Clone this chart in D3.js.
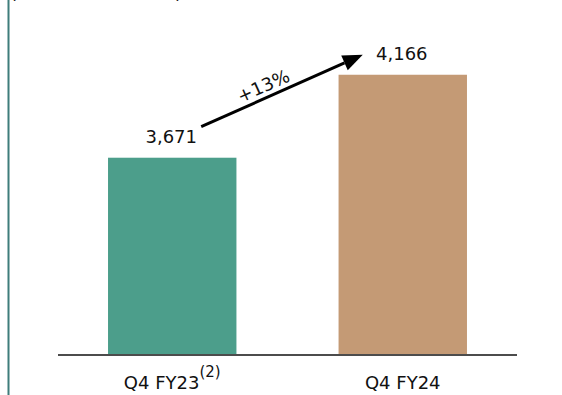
<!DOCTYPE html>
<html>
<head>
<script src="https://cdn.jsdelivr.net/npm/d3@7"></script>
<style>
  body { margin: 0; background: #fff; }
  text { font-family: "DejaVu Sans", sans-serif; fill: #111; }
</style>
</head>
<body>
<svg width="562" height="395"></svg>
<script>
// chart data
var categories = ["Q4 FY23", "Q4 FY24"];
var footnotes = ["(2)", ""];
var values = [3671, 4166];
var changeLabel = "+13%";
var unitsNote = "(Customers in thousands)";

var colors = ["#4c9e8b", "#c49a75"];

var svg = d3.select("svg");

var x = d3.scaleBand().domain(categories).range([58, 517])
  .paddingInner(0.443).paddingOuter(0.217);
var y = d3.scaleLinear().domain([2500, 4600]).range([354, 2]);

// left rule and cropped units note
svg.append("line")
  .attr("x1", 8.5).attr("x2", 8.5).attr("y1", 0).attr("y2", 395)
  .attr("stroke", "#3f7d7b").attr("stroke-width", 2);
svg.append("text")
  .attr("x", 10).attr("y", -1.5)
  .attr("font-size", 18)
  .attr("textLength", 172)
  .text(unitsNote);

// bars
svg.append("g").selectAll("rect")
  .data(values)
  .enter()
  .append("rect")
  .attr("x", function(d, i) { return x(categories[i]); })
  .attr("y", function(d) { return y(d); })
  .attr("width", x.bandwidth())
  .attr("height", function(d) { return y.range()[0] - y(d); })
  .attr("fill", function(d, i) { return colors[i]; });

// baseline
svg.append("line")
  .attr("x1", x.range()[0]).attr("x2", x.range()[1])
  .attr("y1", 355).attr("y2", 355)
  .attr("stroke", "#111").attr("stroke-width", 1.5);

// value labels
svg.append("g").selectAll("text")
  .data(values)
  .enter()
  .append("text")
  .attr("x", function(d, i) { return x(categories[i]) + x.bandwidth() / 2 - 1; })
  .attr("y", function(d) { return y(d) - 15; })
  .attr("text-anchor", "middle")
  .attr("font-size", 18)
  .text(function(d) { return d3.format(",")(d); });

// category labels
var cat = svg.append("g").selectAll("text")
  .data(categories)
  .enter()
  .append("text")
  .attr("x", function(d) { return x(d) + x.bandwidth() / 2; })
  .attr("y", 389)
  .attr("text-anchor", "middle")
  .attr("font-size", 18);
cat.append("tspan").text(function(d) { return d; });
cat.append("tspan")
  .attr("font-size", 15)
  .attr("dy", -12)
  .text(function(d, i) { return footnotes[i]; });

// growth arrow
var x0 = x(categories[0]) + x.bandwidth() / 2 + 29, y0 = y(values[0]) - 31;
var x1 = x(categories[1]) + x.bandwidth() / 2 - 40, y1 = y(values[1]) - 20;
var ang = Math.atan2(y1 - y0, x1 - x0);
var headLen = 20, headW = 8;
var bx = x1 - headLen * Math.cos(ang), by = y1 - headLen * Math.sin(ang);
svg.append("line")
  .attr("x1", x0).attr("y1", y0).attr("x2", bx).attr("y2", by)
  .attr("stroke", "#000").attr("stroke-width", 3);
svg.append("path")
  .attr("d", "M" + x1 + "," + y1 +
    "L" + (bx + headW * Math.sin(ang)) + "," + (by - headW * Math.cos(ang)) +
    "L" + (bx - headW * Math.sin(ang)) + "," + (by + headW * Math.cos(ang)) + "Z")
  .attr("fill", "#000");
var mx = (x0 + x1) / 2 - 16, my = (y0 + y1) / 2 + 1;
svg.append("text")
  .attr("transform", "translate(" + mx + "," + my + ")rotate(" + (ang * 180 / Math.PI) + ")")
  .attr("text-anchor", "middle")
  .attr("font-size", 18)
  .text(changeLabel);
</script>
</body>
</html>
